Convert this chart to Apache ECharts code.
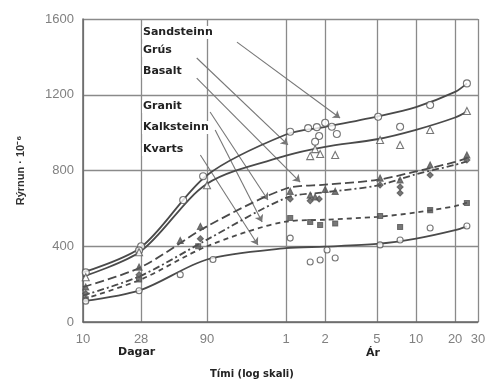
<!DOCTYPE html>
<html><head><meta charset="utf-8">
<script src="https://cdn.jsdelivr.net/npm/echarts@6/dist/echarts.min.js"></script>
<style>html,body{margin:0;padding:0;background:#fff}#c{width:490px;height:385px}</style>
</head><body><div id="c"></div>
<script>
// ---- tick labels (x in days, log scale) ----
const tickDays = [10, 28, 90, 365, 730, 1825, 3650, 7300, 10950];
const tickLabels = ['10', '28', '90', '1', '2', '5', '10', '20', '30'];
const yTicks = [0, 400, 800, 1200, 1600];

// ---- curve values (shrinkage 10^-6) ----
const curveDays   = [10, 28, 90, 365, 730, 1825, 3650, 7300, 9000];
const sandsteinn  = [262, 395, 775, 990, 1030, 1085, 1135, 1215, 1260];
const grus        = [240, 375, 730, 878, 925, 965, 1015, 1080, 1112];
const basalt      = [185, 290, 505, 705, 725, 750, 795, 845, 865];
const granit      = [140, 245, 435, 655, 685, 720, 780, 830, 848];
const kalksteinn  = [120, 225, 400, 530, 540, 555, 578, 612, 630];
const kvarts      = [110, 170, 330, 390, 398, 412, 440, 485, 505];

// ---- measured points [days, value] ----
const ptsSandsteinn = [[10.5,262],[28,400],[27,378],[59,644],[84,770],[393,1005],[540,1024],[630,1029],[730,1052],[822,1031],[898,993],[656,982],[611,952],[1866,1084],[2754,1031],[4690,1146],[8995,1260]];
const ptsGrus       = [[10.5,236],[27,368],[90,722],[611,913],[560,876],[668,887],[872,882],[1932,961],[2754,935],[4690,1014],[8995,1114]];
const ptsBasalt     = [[10.5,185],[27,290],[56,430],[80,505],[393,690],[560,670],[611,660],[730,700],[872,690],[1932,760],[2754,750],[4690,829],[8995,882]];
const ptsGranit     = [[10.5,150],[27,250],[80,440],[393,650],[560,640],[656,650],[1932,724],[2754,713],[2754,681],[4690,776],[8995,855]];
const ptsKalksteinn = [[10.5,120],[27,225],[77,400],[393,549],[560,528],[668,512],[872,520],[1932,560],[2754,502],[4690,591],[8995,628]];
const ptsKvarts     = [[10.5,110],[27,165],[56,250],[100,330],[393,443],[560,317],[668,327],[755,380],[872,338],[1932,407],[2754,433],[4690,496],[8995,507]];

// ---- annotation labels and leader lines [startDays, startVal, endDays, endVal] ----
const labelNames = ['Sandsteinn', 'Grús', 'Basalt', 'Granit', 'Kalksteinn', 'Kvarts'];
const leaders = [[153,1478,951,1077],[75,1394,378,935],[75,1288,469,739],[95,1109,265,644],[104,1014,239,528],[80,882,222,407]];

const L = d => Math.log10(d);
const P = arr => arr.map(p => [L(p[0]), p[1]]);
const C = vals => curveDays.map((d, i) => [L(d), vals[i]]);
const tickVals = tickDays.map(L);

const lineCol = '#4a4a4a';
function curve(vals, type) {
  return { type: 'line', data: C(vals), smooth: 0.3, symbol: 'none', silent: true, z: 3,
    lineStyle: { color: lineCol, width: 1.8, type: type } };
}
function marks(arr, symbol, filled, size) {
  return { type: 'scatter', data: P(arr), symbol: symbol, symbolSize: size || 6, z: 4, silent: true,
    itemStyle: { color: filled ? '#555' : '#fff', borderColor: '#555', borderWidth: 1.1 } };
}

const labelTops = [26, 44, 65, 100, 121, 143];
const LBL = 'bold 11px "DejaVu Sans"';

const chart = echarts.init(document.getElementById('c'), null, { renderer: 'canvas' });
chart.setOption({
  animation: false,
  backgroundColor: '#fff',
  grid: { left: 83, right: 12, top: 19, bottom: 63, containLabel: false },
  xAxis: {
    type: 'value', min: 1, max: L(10950),
    axisLine: { show: true, lineStyle: { color: '#666', width: 1.5 } },
    axisTick: { show: false, customValues: tickVals },
    splitLine: { show: true, lineStyle: { color: '#8a8a8a', width: 1.3 } },
    axisLabel: {
      customValues: tickVals, margin: 11, color: '#808080', fontSize: 13, fontFamily: 'Arial',
      formatter: v => {
        let best = 0;
        tickVals.forEach((t, i) => { if (Math.abs(t - v) < Math.abs(tickVals[best] - v)) best = i; });
        return tickLabels[best];
      }
    }
  },
  yAxis: {
    type: 'value', min: yTicks[0], max: yTicks[yTicks.length - 1], interval: 400,
    name: 'Rýrnun · 10⁻⁶', nameLocation: 'middle', nameGap: 57, nameRotate: 90,
    nameTextStyle: { color: '#333', fontSize: 11, fontFamily: 'Arial', fontWeight: 'bold' },
    axisLine: { show: true, lineStyle: { color: '#666', width: 1.5 } },
    axisTick: { show: false },
    splitLine: { show: true, lineStyle: { color: '#8a8a8a', width: 1.3 } },
    axisLabel: { margin: 9, color: '#808080', fontSize: 13, fontFamily: 'Arial',
      formatter: v => yTicks[yTicks.indexOf(v)] + '' }
  },
  graphic: [
    ...labelNames.map((t, i) => ({ type: 'text', left: 142, top: labelTops[i], z: 10,
      style: { text: t, font: LBL, fill: '#222', backgroundColor: '#fff', padding: [1, 1] } })),
    { type: 'text', left: 118, top: 347, style: { text: 'Dagar', font: LBL, fill: '#222' } },
    { type: 'text', left: 366, top: 348, style: { text: 'Ár', font: LBL, fill: '#222' } },
    { type: 'text', left: 210, top: 369, style: { text: 'Tími (log skali)', font: 'bold 10px "DejaVu Sans"', fill: '#222' } }
  ],
  series: [
    { type: 'lines', coordinateSystem: 'cartesian2d', silent: true, z: 2,
      data: leaders.map(a => ({ coords: [[L(a[0]), a[1]], [L(a[2]), a[3]]] })),
      symbol: ['none', 'arrow'], symbolSize: 7,
      lineStyle: { color: '#777', width: 1.1, opacity: 1 } },
    curve(sandsteinn, 'solid'),
    curve(grus, 'solid'),
    curve(basalt, [9, 4]),
    curve(granit, [7, 3, 2, 3]),
    curve(kalksteinn, [5, 4]),
    curve(kvarts, 'solid'),
    marks(ptsSandsteinn, 'circle', false, 7),
    marks(ptsGrus, 'triangle', false, 7),
    marks(ptsBasalt, 'triangle', true, 6),
    marks(ptsGranit, 'diamond', true, 6),
    marks(ptsKalksteinn, 'rect', true, 5),
    marks(ptsKvarts, 'circle', false, 6)
  ]
});
</script></body></html>
